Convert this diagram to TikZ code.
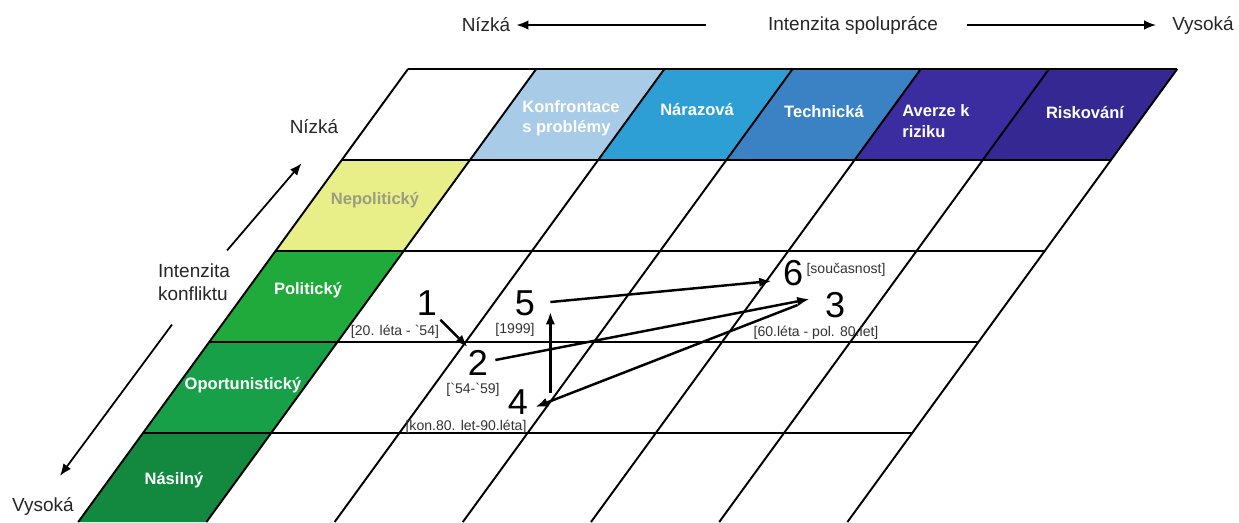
\documentclass[tikz,border=0pt]{standalone}
\usepackage{fontspec}
\setmainfont{Liberation Sans}
\usepackage{tikz}
\usetikzlibrary{calc,arrows.meta}
\definecolor{konfrontace}{HTML}{A8CBE7}
\definecolor{narazova}{HTML}{2D9FD5}
\definecolor{technicka}{HTML}{3A82C3}
\definecolor{averze}{HTML}{3B2CA0}
\definecolor{riskovani}{HTML}{362892}
\definecolor{nepoliticky}{HTML}{E8EE88}
\definecolor{nepoltext}{HTML}{9B9C80}
\definecolor{politicky}{HTML}{1FAA3B}
\definecolor{oportunisticky}{HTML}{18A049}
\definecolor{nasilny}{HTML}{13893F}
\definecolor{periodtext}{HTML}{333333}

\begin{document}
\begin{tikzpicture}[x=0.02cm,y=-0.02cm,
  gridline/.style={black,line width=1.1pt},
  axislabel/.style={font=\fontsize{10.8}{13}\selectfont,text=black!85},
  celltext/.style={font=\fontsize{9.4}{11.6}\selectfont\bfseries,text=white},
  phase/.style={font=\fontsize{20.5}{20.5}\selectfont,inner sep=0pt},
  period/.style={font=\fontsize{8}{8}\selectfont,text=periodtext,inner sep=0pt},
  move/.style={-{Latex[length=0.25cm,width=0.19cm]},line width=1.4pt},
  axis/.style={-{Latex[length=0.24cm,width=0.19cm]},line width=0.9pt}]
\useasboundingbox (0,0) rectangle (1239,522);
% Kopfzeile
\fill[konfrontace] (536.2,69) -- (664.4,69) -- (598.2,160) -- (470,160) -- cycle;
\fill[narazova] (664.4,69) -- (792.6,69) -- (726.4,160) -- (598.2,160) -- cycle;
\fill[technicka] (792.6,69) -- (920.8,69) -- (854.6,160) -- (726.4,160) -- cycle;
\fill[averze] (920.8,69) -- (1049,69) -- (982.8,160) -- (854.6,160) -- cycle;
\fill[riskovani] (1049,69) -- (1177.2,69) -- (1111,160) -- (982.8,160) -- cycle;
% linke Spalte
\fill[nepoliticky] (341.8,160) -- (470,160) -- (403.7,251) -- (275.5,251) -- cycle;
\fill[politicky] (275.5,251) -- (403.7,251) -- (337.5,342) -- (209.3,342) -- cycle;
\fill[oportunisticky] (209.3,342) -- (337.5,342) -- (271.2,433) -- (143,433) -- cycle;
\fill[nasilny] (143,433) -- (271.2,433) -- (206.4,522) -- (78.2,522) -- cycle;
% Gitter
\draw[gridline] (408,69) -- (1177.2,69);
\draw[gridline] (341.8,160) -- (1111,160);
\draw[gridline] (275.5,251) -- (1044.7,251);
\draw[gridline] (209.3,342) -- (978.5,342);
\draw[gridline] (143,433) -- (912.2,433);
\draw[gridline] (408,69) -- (78.2,522);
\draw[gridline] (536.2,69) -- (206.4,522);
\draw[gridline] (664.4,69) -- (334.6,522);
\draw[gridline] (792.6,69) -- (462.8,522);
\draw[gridline] (920.8,69) -- (591,522);
\draw[gridline] (1049,69) -- (719.2,522);
\draw[gridline] (1177.2,69) -- (847.4,522);
% Achsen
\node[axislabel] (nizkaH) at (486,25) {Nízká};
\node[axislabel] (spol) at (853,25) {Intenzita spolupráce};
\node[axislabel] (vysokaH) at (1203,25) {Vysoká};
\draw[axis] ($(spol.west)+(-56,0)$) -- (nizkaH.east);
\draw[axis] ($(spol.east)+(23,0)$) -- ($(vysokaH.west)+(-10,0)$);
\node[axislabel] (nizkaL) at (314,127) {Nízká};
\node[axislabel,align=left] (konflikt) at (194,282) {Intenzita\\konfliktu};
\node[axislabel] (vysokaL) at (43,506) {Vysoká};
\draw[axis,line width=1pt] ($(konflikt.north east)+(-9,-7)$) -- ($(nizkaL.south west)+(18,23)$);
\draw[axis,line width=1pt] ($(konflikt.south)+(-22,18)$) -- ($(vysokaL.north)+(17,-15)$);
% Felder
\node[celltext,align=left] (konfrontaceT) at (571,118) {Konfrontace\\s problémy};
\node[celltext] (narazovaT) at (697,110) {Nárazová};
\node[celltext] (technickaT) at (824,112) {Technická};
\node[celltext,align=left] (averzeT) at (936,121) {Averze k\\riziku};
\node[celltext] (riskovaniT) at (1085,113) {Riskování};
\node[celltext,text=nepoltext] (nepolitickyT) at (375,200) {Nepolitický};
\node[celltext] (politickyT) at (308,290) {Politický};
\node[celltext] (oportunistickyT) at (243,385) {Oportunistický};
\node[celltext] (nasilnyT) at (174,480) {Násilný};
% Phasen
\node[phase] (n1) at (427,303) {1};
\node[phase] (n2) at (478,363) {2};
\node[phase] (n3) at (835,305) {3};
\node[phase] (n4) at (518,402) {4};
\node[phase] (n5) at (525,303) {5};
\node[phase] (n6) at (793,273) {6};
\node[period] (p1) at (395,332) {[20. léta - \textasciigrave 54]};
\node[period] (p2) at (473,390) {[\textasciigrave 54-\textasciigrave 59]};
\node[period] (p3) at (816,333) {[60.léta - pol. 80.let]};
\node[period] (p4) at (466,427) {[kon.80. let-90.léta]};
\node[period] (p5) at (515,330) {[1999]};
\node[period] (p6) at (846,270) {[současnost]};
\draw[move] ($(n1.south east)+(3,4)$) -- ($(n2.north west)+(0,-3)$);
\draw[move] ($(n2.east)+(7,-3)$) -- ($(n3.west)+(-15,-6)$);
\draw[move] ($(n3.west)+(-27,0)$) -- ($(n4.east)+(7,5)$);
\draw[move] ($(n4.north east)+(22,4)$) -- ($(n5.south east)+(15,-4)$);
\draw[move] ($(n5.east)+(15,-1)$) -- ($(n6.west)+(-11,8)$);
\end{tikzpicture}
\end{document}
